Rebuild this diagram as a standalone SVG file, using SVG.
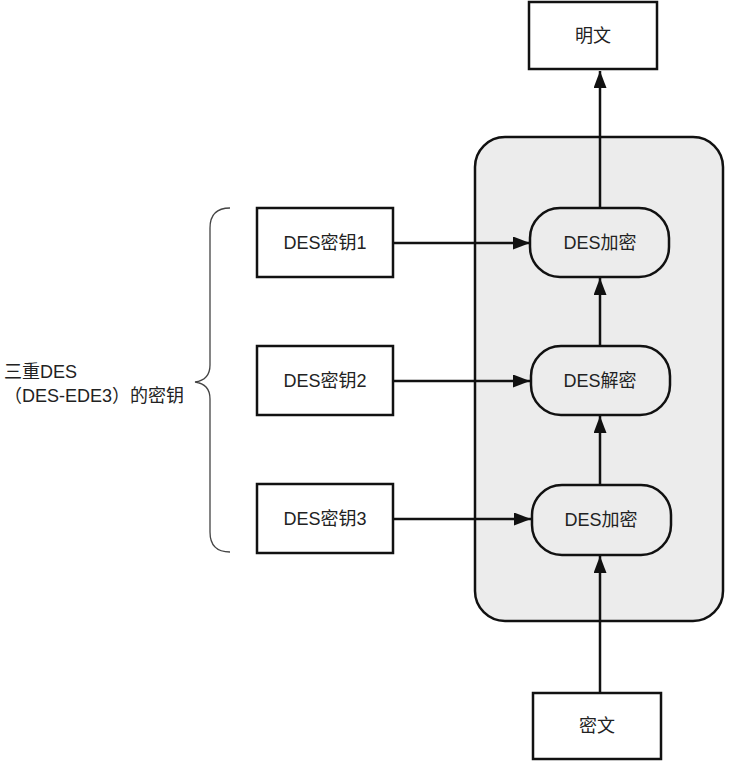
<svg xmlns="http://www.w3.org/2000/svg" width="743" height="770" viewBox="0 0 743 770">
<style>
.box{fill:#fff;stroke:#111;stroke-width:2.5}
.pill{fill:#ececec;stroke:#111;stroke-width:2.5}
.lbl{font-family:"Liberation Sans","Noto Sans CJK SC",sans-serif;font-size:18px;fill:#222;text-anchor:middle;dominant-baseline:central}
.side{font-family:"Liberation Sans","Noto Sans CJK SC",sans-serif;font-size:18px;fill:#222;dominant-baseline:central}
.edge{stroke:#111;stroke-width:2.5;fill:none;marker-end:url(#ah)}
</style>
<defs>
<marker id="ah" viewBox="0 0 10 10" refX="10" refY="5" markerWidth="17" markerHeight="13" markerUnits="userSpaceOnUse" orient="auto" preserveAspectRatio="none">
<path d="M0,0 L10,5 L0,10 z" fill="#111"/>
</marker>
</defs>
<rect width="743" height="770" fill="#fff"/>
<g id="container"><rect x="475" y="137" width="248" height="484" rx="30" fill="#ececec" stroke="#111" stroke-width="2.5"/></g>
<g id="connectors">
<line x1="600" y1="208" x2="600" y2="71" class="edge"/>
<line x1="600" y1="345" x2="600" y2="278" class="edge"/>
<line x1="600" y1="485" x2="600" y2="416" class="edge"/>
<line x1="600" y1="693" x2="600" y2="556" class="edge"/>
<line x1="393" y1="243" x2="530" y2="243" class="edge"/>
<line x1="393" y1="381" x2="530" y2="381" class="edge"/>
<line x1="393" y1="519" x2="531" y2="519" class="edge"/>
</g>
<g id="plain"><rect class="box" x="529" y="2" width="128" height="67"/><text class="lbl" x="593" y="36">明文</text></g>
<g id="cipher"><rect class="box" x="533" y="693" width="128" height="66"/><text class="lbl" x="597" y="726">密文</text></g>
<g id="enc1"><rect class="pill" x="530" y="208" width="139" height="69" rx="30"/><text class="lbl" x="600" y="243">DES加密</text></g>
<g id="dec"><rect class="pill" x="531" y="346" width="139" height="69" rx="30"/><text class="lbl" x="600" y="381">DES解密</text></g>
<g id="enc2"><rect class="pill" x="532" y="485" width="139" height="70" rx="30"/><text class="lbl" x="601" y="520">DES加密</text></g>
<g id="key1"><rect class="box" x="257" y="208" width="136" height="69"/><text class="lbl" x="325" y="243">DES密钥1</text></g>
<g id="key2"><rect class="box" x="257" y="346" width="136" height="69"/><text class="lbl" x="325" y="381">DES密钥2</text></g>
<g id="key3"><rect class="box" x="257" y="484" width="136" height="69"/><text class="lbl" x="325" y="519">DES密钥3</text></g>
<g id="brace">
<path d="M230,208 Q210,208 210,228 L210,365 Q210,380 195,382 Q210,384 210,399 L210,532 Q210,552 230,552" fill="none" stroke="#444" stroke-width="1.3"/>
<text class="side" x="4" y="372">三重DES</text>
<text class="side" x="4" y="396">（DES-EDE3）的密钥</text>
</g>
</svg>
